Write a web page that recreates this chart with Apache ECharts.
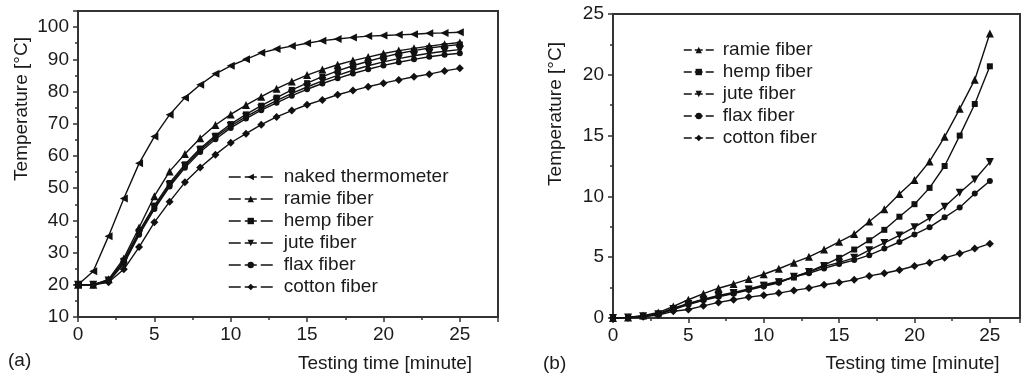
<!DOCTYPE html>
<html>
<head>
<meta charset="utf-8">
<script src="https://cdn.jsdelivr.net/npm/echarts@6/dist/echarts.min.js"></script>
<style>
html,body{margin:0;padding:0;background:#fff;}
#c{width:1023px;height:378px;}
</style>
</head>
<body>
<div id="c"></div>
<script>
// ---------- data ----------
const minutes = [0,1,2,3,4,5,6,7,8,9,10,11,12,13,14,15,16,17,18,19,20,21,22,23,24,25];

// (a) temperature [°C]
const aNaked  = [20,24.2,35.1,46.8,57.7,66.0,72.8,78.1,82.1,85.5,88.0,90.0,92.0,93.2,94.1,95.0,95.8,96.3,96.8,97.2,97.4,97.6,97.8,98.1,98.2,98.4];
const aRamie  = [20,20,21.7,28.2,37.8,47.5,55.2,60.6,65.5,69.6,72.9,75.8,78.4,80.9,83.1,85.1,86.8,88.3,89.6,90.7,91.8,92.7,93.4,94.1,94.7,95.2];
const aHemp   = [20,20,21.5,27.5,36.6,44.6,51.6,57.4,62.3,66.3,69.9,72.9,75.6,78.1,80.5,82.6,84.6,86.4,88.0,89.4,90.7,91.8,92.7,93.5,94.1,94.6];
const aJute   = [20,20,21.3,27.0,36.0,44.0,51.0,56.9,61.8,65.8,69.3,72.2,74.8,77.2,79.4,81.4,83.3,85.0,86.6,88.0,89.2,90.2,91.1,91.9,92.5,93.0];
const aFlax   = [20,20,21.0,26.5,35.5,43.5,50.5,56.3,61.2,65.2,68.7,71.6,74.2,76.5,78.7,80.7,82.5,84.1,85.6,86.9,88.1,89.1,90.0,90.8,91.4,91.9];
const aCotton = [20,20,20.8,24.8,31.7,39.4,45.8,51.8,56.4,60.4,64.1,66.9,69.7,72.1,74.1,75.9,77.4,79.0,80.3,81.5,82.6,83.6,84.6,85.4,86.4,87.2];

// (b) temperature [°C]
const bRamie  = [0,0.05,0.2,0.45,0.95,1.5,2.0,2.45,2.8,3.2,3.6,4.05,4.55,5.03,5.63,6.27,6.9,7.93,8.95,10.2,11.35,12.88,14.9,17.2,19.6,23.4];
const bHemp   = [0,0.05,0.15,0.35,0.8,1.2,1.55,1.85,2.1,2.4,2.73,3.0,3.33,3.81,4.35,4.95,5.63,6.39,7.25,8.33,9.36,10.7,12.5,15.0,17.6,20.7];
const bJute   = [0,0.05,0.15,0.3,0.75,1.15,1.5,1.8,2.05,2.35,2.65,2.95,3.4,3.78,4.25,4.55,4.95,5.58,6.17,6.79,7.47,8.22,9.15,10.3,11.39,12.82];
const bFlax   = [0,0.05,0.12,0.3,0.7,1.1,1.45,1.75,2.0,2.3,2.6,2.9,3.38,3.68,4.08,4.44,4.76,5.17,5.71,6.25,6.87,7.47,8.28,9.09,10.23,11.26];
const bCotton = [0,0.03,0.1,0.25,0.55,0.7,1.0,1.28,1.5,1.72,1.87,2.05,2.27,2.46,2.73,2.92,3.14,3.46,3.68,3.95,4.28,4.55,4.95,5.3,5.71,6.11];

const namesA = ['naked thermometer','ramie fiber','hemp fiber','jute fiber','flax fiber','cotton fiber'];
const namesB = ['ramie fiber','hemp fiber','jute fiber','flax fiber','cotton fiber'];
const xTitle = 'Testing time [minute]';
const yTitle = 'Temperature [°C]';

// ---------- styling ----------
const FONT = 'Liberation Sans, Arial, sans-serif';
const TXT = '#1a1a1a';
const AX = '#333';
const markers = {
  'naked thermometer': {symbol:'triangle', size:8, rotate:90},
  'ramie fiber': {symbol:'triangle', size:8, rotate:0},
  'hemp fiber': {symbol:'rect', size:6, rotate:0},
  'jute fiber': {symbol:'triangle', size:8, rotate:180},
  'flax fiber': {symbol:'circle', size:6, rotate:0},
  'cotton fiber': {symbol:'diamond', size:8, rotate:0}
};

function mkSeries(name, vals, idx) {
  const m = markers[name];
  return {
    type:'line', name:name, xAxisIndex:idx, yAxisIndex:idx,
    data: minutes.map((x,i)=>[x, vals[i]]),
    symbol:m.symbol, symbolSize:m.size, symbolRotate:m.rotate,
    showSymbol:true, smooth:false, silent:true, animation:false,
    lineStyle:{color:'#111', width:1.4},
    itemStyle:{color:'#111', borderWidth:0}
  };
}

function xAxisCfg(idx, max, padLeft, gap) {
  return {
    type:'value', gridIndex:idx, min:0, max:max, interval:5,
    name:xTitle, nameLocation:'middle', nameGap:gap,
    nameTextStyle:{fontFamily:FONT, fontSize:19, color:TXT, padding:[0,0,0,padLeft]},
    axisLine:{show:true, onZero:false, lineStyle:{color:AX, width:2}},
    axisTick:{show:true, inside:false, length:5, lineStyle:{color:AX, width:1.5}},
    minorTick:{show:true, splitNumber:2, length:3, lineStyle:{color:AX, width:1.5}},
    splitLine:{show:false}, minorSplitLine:{show:false},
    axisLabel:{fontFamily:FONT, fontSize:19, color:TXT, margin:8,
      formatter:v => (Math.abs(v % 5) < 1e-9 ? String(v) : '')}
  };
}
function yAxisCfg(idx, min, max, interval, padLeft, gap) {
  return {
    type:'value', gridIndex:idx, min:min, max:max, interval:interval,
    name:yTitle, nameLocation:'middle', nameGap:gap,
    nameTextStyle:{fontFamily:FONT, fontSize:19, color:TXT, padding:[0,0,0,padLeft]},
    axisLine:{show:true, lineStyle:{color:AX, width:2}},
    axisTick:{show:true, inside:false, length:5, lineStyle:{color:AX, width:1.5}},
    minorTick:{show:true, splitNumber:2, length:3, lineStyle:{color:AX, width:1.5}},
    splitLine:{show:false}, minorSplitLine:{show:false},
    axisLabel:{fontFamily:FONT, fontSize:19, color:TXT, margin:9,
      formatter:v => (Math.abs(v % interval) < 1e-9 ? String(v) : '')}
  };
}

function legendCfg(names, left, top, w, dash, textPad) {
  return {
    data:names, orient:'vertical', left:left, top:top, padding:0,
    itemWidth:w, itemHeight:8, itemGap:0, selectedMode:false,
    lineStyle:{type:dash, width:1.5, color:'#111'},
    textStyle:{fontFamily:FONT, fontSize:19, color:TXT, lineHeight:22, padding:[0,0,0,textPad]}
  };
}

const chart = echarts.init(document.getElementById('c'), null, {renderer:'canvas'});
chart.setOption({
  backgroundColor:'#ffffff',
  animation:false,
  grid:[
    {left:78, top:11, right:525, bottom:60, show:true, borderColor:AX, borderWidth:2, backgroundColor:'transparent'},
    {left:613, top:14, right:-2, bottom:56, show:true, borderColor:AX, borderWidth:2, backgroundColor:'transparent'}
  ],
  xAxis:[ xAxisCfg(0, 27.5, 194, 37), xAxisCfg(1, 27, 192, 36) ],
  yAxis:[ yAxisCfg(0, 10, 105, 10, 110, 47), yAxisCfg(1, 0, 25, 5, 104, 48) ],
  legend:[
    legendCfg(namesA, 228, 166, 44, [12,4], 6),
    legendCfg(namesB, 683, 39, 30, [8,3], 4)
  ],
  series:[
    mkSeries('naked thermometer', aNaked, 0),
    mkSeries('ramie fiber', aRamie, 0),
    mkSeries('hemp fiber', aHemp, 0),
    mkSeries('jute fiber', aJute, 0),
    mkSeries('flax fiber', aFlax, 0),
    mkSeries('cotton fiber', aCotton, 0),
    mkSeries('ramie fiber', bRamie, 1),
    mkSeries('hemp fiber', bHemp, 1),
    mkSeries('jute fiber', bJute, 1),
    mkSeries('flax fiber', bFlax, 1),
    mkSeries('cotton fiber', bCotton, 1)
  ],
  graphic:[
    {type:'text', left:8, top:351, style:{text:'(a)', font:'19px '+FONT, fill:TXT}},
    {type:'text', left:543, top:354, style:{text:'(b)', font:'19px '+FONT, fill:TXT}}
  ]
});
</script>
</body>
</html>
